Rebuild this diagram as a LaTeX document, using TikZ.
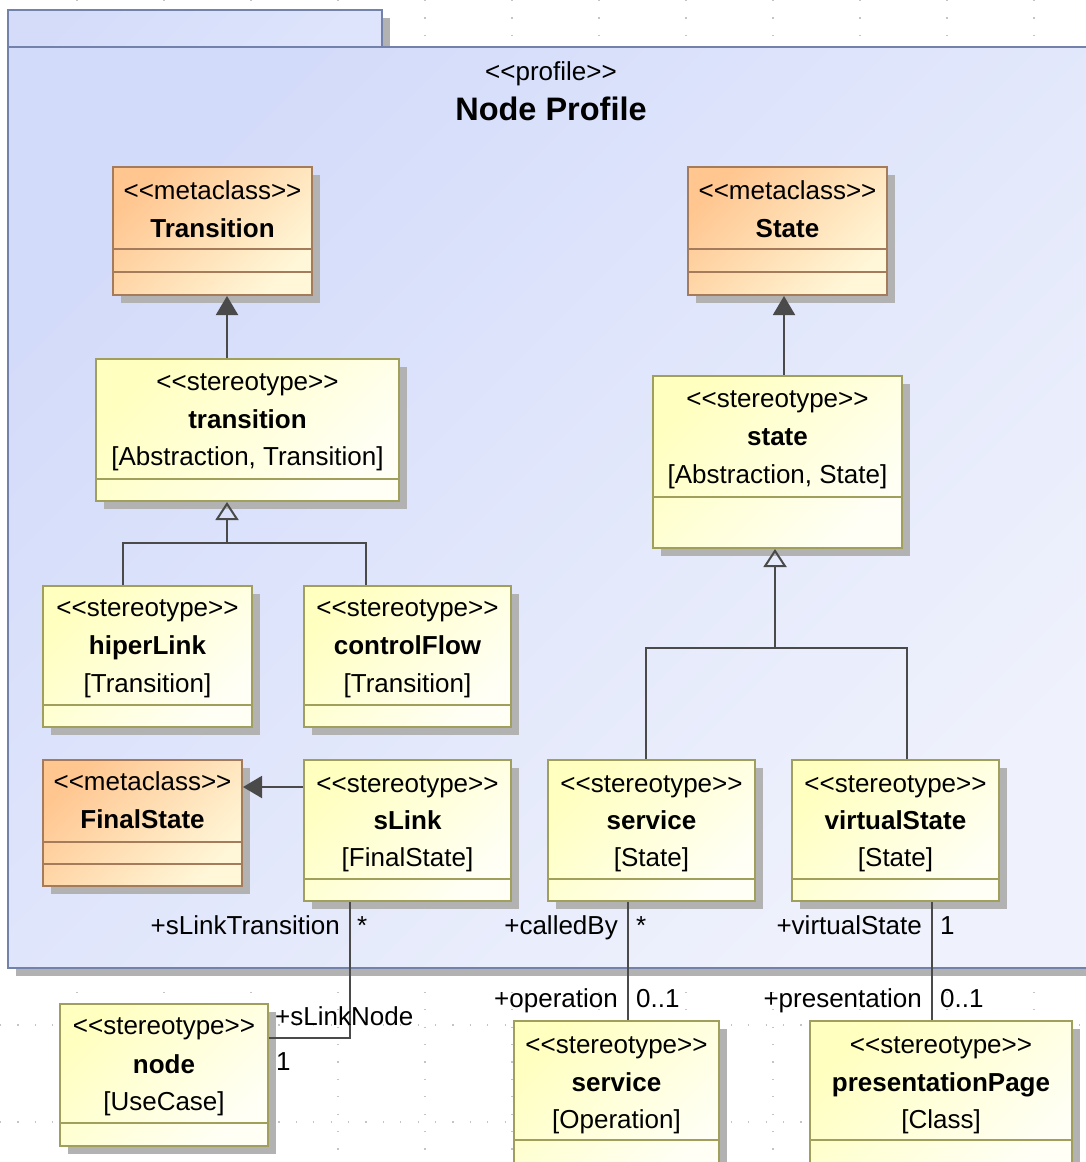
\documentclass[tikz,border=0pt]{standalone}
\usepackage{fontspec}
\setmainfont{Liberation Sans}
\usetikzlibrary{arrows.meta,shadows,calc}

\definecolor{pkgline}{HTML}{7282AA}
\definecolor{pkgA}{HTML}{D3DBFA}
\definecolor{pkgB}{HTML}{EFF2FC}
\definecolor{tabA}{HTML}{D4DCFA}
\definecolor{tabB}{HTML}{DDE4FB}
\definecolor{metaA}{HTML}{FFC690}
\definecolor{metaB}{HTML}{FFF7D8}
\definecolor{metaline}{HTML}{A47C5C}
\definecolor{stereoA}{HTML}{FFFFC0}
\definecolor{stereoB}{HTML}{FFFFF6}
\definecolor{stereoline}{HTML}{A0A05C}
\definecolor{shadowgrey}{HTML}{B2B2B2}
\definecolor{edge}{HTML}{4A4A4A}
\definecolor{gridgrey}{HTML}{C4C4C4}

% guillemet-style brackets kept as two separate characters
\newcommand\stereo[1]{<\kern0pt<#1>\kern0pt>}

\begin{document}
\begin{tikzpicture}[x=1pt,y=-1pt,
  font=\fontsize{26}{30}\selectfont,
  gridline/.style={draw=gridgrey, line width=1.1pt, dash pattern=on 1.1pt off 16.3pt},
  pkgborder/.style={draw=pkgline, line width=2pt},
  box/.style={rectangle, line width=2pt, inner sep=0pt,
    general shadow={fill=shadowgrey, shadow xshift=8pt, shadow yshift=-8pt}},
  metabox/.style={box, draw=metaline, top color=metaA, bottom color=metaB, shading angle=45},
  stereobox/.style={box, draw=stereoline, top color=stereoA, bottom color=stereoB, shading angle=45},
  metacomp/.style={draw=metaline, line width=1.6pt},
  stereocomp/.style={draw=stereoline, line width=1.6pt},
  lbl/.style={inner sep=0pt, text height=19pt, text depth=5pt},
  clsname/.style={lbl, font=\fontsize{26}{30}\selectfont\bfseries},
  assoc/.style={draw=edge, line width=2pt},
  extn/.style={assoc, -{Triangle[width=22pt, length=19pt, fill=edge]}},
  genl/.style={assoc, -{Triangle[open, width=23pt, length=18pt]}},
  rolel/.style={lbl, anchor=east},
  roler/.style={lbl, anchor=west}]

\useasboundingbox (0,0) rectangle (1086,1162);
\clip (0,0) rectangle (1086,1162);

% background grid
\foreach \gx in {77,164,...,1100} \draw[gridline] (\gx,0) -- (\gx,1162);
\foreach \gy in {1025,1122} \draw[gridline] (0,\gy) -- (1086,\gy);

% package frame with tab
\fill[shadowgrey] (16,18) rectangle (390,47);
\fill[shadowgrey] (16,55) rectangle (1100,976);
\shade[top color=tabA, bottom color=tabB, shading angle=45] (8,10) rectangle (382,47);
\draw[pkgborder] (8,10) rectangle (382,47);
\shade[top color=pkgA, bottom color=pkgB, shading angle=45] (8,47) rectangle (1100,968);
\draw[pkgborder] (8,47) rectangle (1100,968);

\node[lbl] (pk-s) at (551,73) {\stereo{profile}};
\node[lbl, font=\fontsize{32.5}{36}\selectfont\bfseries] (pk-n) at (551,113) {Node Profile};

% metaclass Transition
\node[metabox, minimum width=199pt, minimum height=128pt] (Tr) at (212.5,231) {};
\draw[metacomp] (113,249) -- (312,249);
\draw[metacomp] (113,272) -- (312,272);
\node[lbl] (Tr-s) at (212.5,192) {\stereo{metaclass}};
\node[clsname] (Tr-n) at (212.5,230) {Transition};

% metaclass State
\node[metabox, minimum width=199pt, minimum height=128pt] (St) at (787.5,231) {};
\draw[metacomp] (688,249) -- (887,249);
\draw[metacomp] (688,272) -- (887,272);
\node[lbl] (St-s) at (787.5,192) {\stereo{metaclass}};
\node[clsname] (St-n) at (787.5,230) {State};

% stereotype transition
\node[stereobox, minimum width=303pt, minimum height=142pt] (tr) at (247.5,430) {};
\draw[stereocomp] (96,479) -- (399,479);
\node[lbl] (tr-s) at (247.5,383) {\stereo{stereotype}};
\node[clsname] (tr-n) at (247.5,421) {transition};
\node[lbl] (tr-m) at (247.5,458) {[Abstraction, Transition]};

% stereotype state
\node[stereobox, minimum width=249pt, minimum height=172pt] (st) at (777.5,462) {};
\draw[stereocomp] (653,497) -- (902,497);
\node[lbl] (st-s) at (777.5,400) {\stereo{stereotype}};
\node[clsname] (st-n) at (777.5,438) {state};
\node[lbl] (st-m) at (777.5,476) {[Abstraction, State]};

% stereotype hiperLink
\node[stereobox, minimum width=209pt, minimum height=141pt] (hl) at (147.5,656.5) {};
\draw[stereocomp] (43,705) -- (252,705);
\node[lbl] (hl-s) at (147.5,609) {\stereo{stereotype}};
\node[clsname] (hl-n) at (147.5,647) {hiperLink};
\node[lbl] (hl-m) at (147.5,685) {[Transition]};

% stereotype controlFlow
\node[stereobox, minimum width=207pt, minimum height=141pt] (cf) at (407.5,656.5) {};
\draw[stereocomp] (304,705) -- (511,705);
\node[lbl] (cf-s) at (407.5,609) {\stereo{stereotype}};
\node[clsname] (cf-n) at (407.5,647) {controlFlow};
\node[lbl] (cf-m) at (407.5,685) {[Transition]};

% metaclass FinalState
\node[metabox, minimum width=199pt, minimum height=126pt] (FS) at (142.5,823) {};
\draw[metacomp] (43,842) -- (242,842);
\draw[metacomp] (43,864) -- (242,864);
\node[lbl] (FS-s) at (142.5,783) {\stereo{metaclass}};
\node[clsname] (FS-n) at (142.5,821) {FinalState};

% stereotype sLink
\node[stereobox, minimum width=207pt, minimum height=141pt] (sl) at (407.5,830.5) {};
\draw[stereocomp] (304,879) -- (511,879);
\node[lbl] (sl-s) at (407.5,785) {\stereo{stereotype}};
\node[clsname] (sl-n) at (407.5,822) {sLink};
\node[lbl] (sl-m) at (407.5,859) {[FinalState]};

% stereotype service (State)
\node[stereobox, minimum width=207pt, minimum height=141pt] (sv) at (651.5,830.5) {};
\draw[stereocomp] (548,879) -- (755,879);
\node[lbl] (sv-s) at (651.5,785) {\stereo{stereotype}};
\node[clsname] (sv-n) at (651.5,822) {service};
\node[lbl] (sv-m) at (651.5,859) {[State]};

% stereotype virtualState
\node[stereobox, minimum width=207pt, minimum height=141pt] (vs) at (895.5,830.5) {};
\draw[stereocomp] (792,879) -- (999,879);
\node[lbl] (vs-s) at (895.5,785) {\stereo{stereotype}};
\node[clsname] (vs-n) at (895.5,822) {virtualState};
\node[lbl] (vs-m) at (895.5,859) {[State]};

% stereotype node
\node[stereobox, minimum width=208pt, minimum height=142pt] (nd) at (164,1075) {};
\draw[stereocomp] (60,1123) -- (268,1123);
\node[lbl] (nd-s) at (164,1027) {\stereo{stereotype}};
\node[clsname] (nd-n) at (164,1066) {node};
\node[lbl] (nd-m) at (164,1103) {[UseCase]};

% stereotype service (Operation)
\node[stereobox, minimum width=205pt, minimum height=158pt] (so) at (616.5,1100) {};
\draw[stereocomp] (514,1140) -- (719,1140);
\node[lbl] (so-s) at (616.5,1046) {\stereo{stereotype}};
\node[clsname] (so-n) at (616.5,1084) {service};
\node[lbl] (so-m) at (616.5,1121) {[Operation]};

% stereotype presentationPage
\node[stereobox, minimum width=262pt, minimum height=158pt] (pp) at (941,1100) {};
\draw[stereocomp] (810,1140) -- (1072,1140);
\node[lbl] (pp-s) at (941,1046) {\stereo{stereotype}};
\node[clsname] (pp-n) at (941,1084) {presentationPage};
\node[lbl] (pp-m) at (941,1121) {[Class]};

% extensions
\coordinate (a1) at (227,0);
\draw[extn] (tr.north -| a1) -- (Tr.south -| a1);
\coordinate (a2) at (784,0);
\draw[extn] (st.north -| a2) -- (St.south -| a2);
\coordinate (e1) at (0,787);
\draw[extn] (sl.west |- e1) -- (FS.east |- e1);

% generalization trees
\coordinate (j1) at (227,543);
\coordinate (h1) at (123,0);
\coordinate (c1) at (366,0);
\draw[assoc] (hl.north -| h1) |- (j1) -| (cf.north -| c1);
\draw[genl] (j1) -- (tr.south -| j1);

\coordinate (j2) at (775,648);
\coordinate (s1) at (646,0);
\coordinate (v1) at (907,0);
\draw[assoc] (sv.north -| s1) |- (j2) -| (vs.north -| v1);
\draw[genl] (j2) -- (st.south -| j2);

% associations
\coordinate (k1) at (350,1038);
\draw[assoc] (sl.south -| k1) |- (nd.east |- k1);
\coordinate (m1) at (628,0);
\draw[assoc] (sv.south -| m1) -- (so.north -| m1);
\coordinate (m2) at (932,0);
\draw[assoc] (vs.south -| m2) -- (pp.north -| m2);

% association ends
\node[rolel] (r1) at (340,927) {+sLinkTransition};
\node[roler] (r2) at (357,927) {*};
\node[roler] (r3) at (275,1018) {+sLinkNode};
\node[roler] (r4) at (276,1063) {1};
\node[rolel] (r5) at (618,927) {+calledBy};
\node[roler] (r6) at (636,927) {*};
\node[rolel] (r7) at (618,1000) {+operation};
\node[roler] (r8) at (636,1000) {0..1};
\node[rolel] (r9) at (922,927) {+virtualState};
\node[roler] (r10) at (940,927) {1};
\node[rolel] (r11) at (922,1000) {+presentation};
\node[roler] (r12) at (940,1000) {0..1};

\end{tikzpicture}
\end{document}
